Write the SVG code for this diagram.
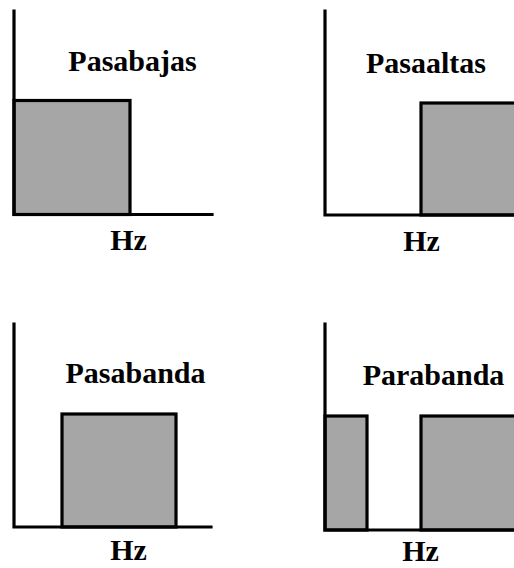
<svg xmlns="http://www.w3.org/2000/svg" width="514" height="568" viewBox="0 0 514 568">
  <style>
    .axis { fill: none; stroke: #000; stroke-width: 3.2; stroke-linecap: square; stroke-linejoin: miter; }
    .band { fill: #a6a6a6; stroke: #000; stroke-width: 3.2; }
    .title { font-family: "Liberation Serif", "Times New Roman", serif; font-weight: bold; font-size: 30px; fill: #000; text-anchor: middle; }
  </style>
  <rect x="0" y="0" width="514" height="568" fill="#fff"/>
  <g id="pasabajas">
    <rect class="band" x="14" y="100.5" width="116" height="114"/>
    <path class="axis" d="M14,11 V214.5 H212"/>
    <text class="title" x="132.5" y="71">Pasabajas</text>
    <text class="title" x="128.5" y="250">Hz</text>
  </g>
  <g id="pasaaltas">
    <rect class="band" x="421" y="103" width="100" height="112"/>
    <path class="axis" d="M325,11 V215 H516"/>
    <text class="title" x="426" y="73">Pasaaltas</text>
    <text class="title" x="421.5" y="251">Hz</text>
  </g>
  <g id="pasabanda">
    <rect class="band" x="62" y="414" width="114" height="113"/>
    <path class="axis" d="M14,324 V527 H211"/>
    <text class="title" x="135.5" y="383">Pasabanda</text>
    <text class="title" x="128.5" y="560">Hz</text>
  </g>
  <g id="parabanda">
    <rect class="band" x="325" y="416" width="42" height="114"/>
    <rect class="band" x="421" y="416" width="100" height="114"/>
    <path class="axis" d="M325,324 V530 H516"/>
    <text class="title" x="433.5" y="385">Parabanda</text>
    <text class="title" x="420.5" y="561">Hz</text>
  </g>
</svg>
